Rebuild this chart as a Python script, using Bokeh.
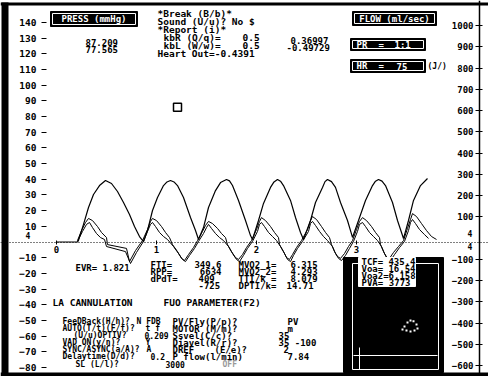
from bokeh.plotting import figure
from bokeh.models import Range1d, LinearAxis, FixedTicker, ColumnDataSource
from bokeh.core.properties import value
from bokeh.embed import file_html
from bokeh.resources import INLINE

# ---------------- data ----------------
time_ticks = [0, 1, 2, 3]
press_ticks = [-80, -70, -60, -50, -40, -30, -20, -10,
               10, 20, 30, 40, 50, 60, 70, 80, 90, 100, 110, 120, 130, 140]
flow_ticks = [-600, -500, -400, -300, -200, -100,
              100, 200, 300, 400, 500, 600, 700, 800, 900, 1000]

# pressure trace (s, mmHg)
press_t = [0.00, 0.21, 0.22, 0.27, 0.32, 0.37, 0.43, 0.49, 0.55, 0.61, 0.67, 0.73, 0.78, 0.83, 0.87,
           0.91, 0.96, 1.01, 1.07, 1.105, 1.14, 1.175, 1.21, 1.27, 1.34, 1.39, 1.42,
           1.47, 1.52, 1.59, 1.64, 1.70, 1.73, 1.76, 1.82, 1.89, 1.94, 1.96,
           2.02, 2.07, 2.14, 2.175, 2.21, 2.24, 2.27, 2.34, 2.39, 2.44, 2.47,
           2.54, 2.59, 2.66, 2.685, 2.71, 2.75, 2.79, 2.84, 2.91, 2.96,
           3.02, 3.09, 3.16, 3.19, 3.22, 3.255, 3.29, 3.36, 3.41, 3.47,
           3.52, 3.57, 3.64, 3.71]
press_p = [0, 0, 1.0, 11.2, 22.0, 30.3, 36.0, 39.2, 37.3, 32.2, 25.2, 17.5, 9.9, 3.5, 0.3,
           7.3, 20.1, 28.4, 36.0, 38.3, 39.2, 38.3, 36.0, 28.4, 15.6, 7.3, 1.6,
           9.2, 22.0, 32.8, 37.9, 39.9, 39.0, 36.0, 26.5, 13.7, 4.1, 1.6,
           13.7, 24.6, 34.8, 38.3, 39.9, 38.8, 36.0, 26.5, 15.6, 6.1, 1.6,
           13.7, 25.2, 34.8, 38.5, 39.9, 38.5, 34.8, 25.2, 13.7, 2.9,
           13.7, 26.5, 36.0, 38.8, 39.9, 38.8, 36.0, 25.2, 13.7, 2.2,
           13.7, 26.5, 36.0, 40.5]

# flow trace 1 (s, ml/sec)
flow1_t = [0.21, 0.25, 0.29, 0.32, 0.36, 0.41, 0.45, 0.50, 0.51, 0.70, 0.73, 0.79, 0.86,
           0.91, 0.94, 0.96, 1.00, 1.05, 1.09, 1.13, 1.16, 1.21, 1.25, 1.28, 1.32, 1.37, 1.41,
           1.46, 1.49, 1.52, 1.56, 1.61, 1.65, 1.69, 1.71, 1.75, 1.79, 1.82, 1.86, 1.90, 1.95,
           2.00, 2.03, 2.05, 2.09, 2.14, 2.18, 2.22, 2.23, 2.27, 2.30, 2.33, 2.36, 2.40, 2.45,
           2.51, 2.54, 2.56, 2.60, 2.65, 2.69, 2.73, 2.75, 2.78, 2.81, 2.84, 2.88, 2.92, 2.96,
           3.00, 3.03, 3.06, 3.10, 3.15, 3.19, 3.23, 3.24, 3.27, 3.30, 3.33, 3.37, 3.42, 3.47,
           3.51, 3.54, 3.56, 3.60, 3.65, 3.70, 3.75, 3.80]
flow1_f = [-12, 35, 73, 92, 82, 54, 26, 2, -31, -49, -111, -59, -12,
           40, 78, 92, 82, 54, 26, 2, -31, -64, -96, -106, -78, -45, -12,
           31, 59, 78, 68, 45, 21, 2, -31, -64, -92, -101, -78, -45, -12,
           40, 78, 96, 82, 54, 26, 2, -31, -64, -92, -101, -78, -45, -12,
           40, 82, 101, 87, 54, 26, 2, -31, -64, -87, -96, -73, -40, -12,
           40, 78, 96, 82, 54, 26, 2, -31, -64, -92, -96, -68, -40, -12,
           45, 87, 115, 101, 68, 35, 7, -7]

# flow trace 2 (s, ml/sec)
flow2_t = [0.21, 0.26, 0.30, 0.33, 0.36, 0.40, 0.44, 0.48, 0.50, 0.69, 0.74, 0.80, 0.87,
           0.91, 0.94, 0.96, 0.99, 1.03, 1.07, 1.11, 1.17, 1.22, 1.26, 1.29, 1.33, 1.38, 1.42,
           1.47, 1.50, 1.52, 1.55, 1.59, 1.63, 1.67, 1.72, 1.76, 1.80, 1.83, 1.87, 1.91, 1.96,
           2.01, 2.03, 2.05, 2.08, 2.12, 2.16, 2.20, 2.24, 2.28, 2.31, 2.34, 2.37, 2.41, 2.46,
           2.52, 2.54, 2.56, 2.59, 2.63, 2.67, 2.71, 2.76, 2.79, 2.82, 2.85, 2.89, 2.93, 2.97,
           3.01, 3.03, 3.06, 3.09, 3.13, 3.17, 3.21, 3.25, 3.28, 3.31, 3.34, 3.38, 3.43, 3.48,
           3.52, 3.54, 3.56, 3.59, 3.63, 3.68, 3.72]
flow2_f = [-16, 31, 64, 73, 49, 21, 2, -7, -40, -64, -120, -68, -16,
           31, 64, 73, 54, 26, 7, -7, -40, -73, -101, -111, -82, -49, -16,
           21, 49, 64, 45, 21, 2, -12, -40, -73, -101, -111, -82, -49, -16,
           31, 64, 73, 54, 26, 7, -12, -40, -73, -101, -111, -82, -49, -16,
           31, 68, 78, 59, 31, 7, -12, -40, -73, -96, -106, -82, -49, -16,
           31, 64, 73, 54, 26, 7, -12, -40, -73, -96, -106, -78, -45, -16,
           35, 73, 87, 68, 40, 16, -2]

cursor_t = [1.21]
cursor_p = [86]

# inset loop dots
loop_t = [3.48, 3.51, 3.54, 3.57, 3.60, 3.61, 3.58, 3.54, 3.50, 3.46]
loop_p = [-53.9, -51.3, -50.0, -50.6, -52.6, -55.2, -56.4, -57.1, -56.4, -55.8]

# ---------------- layout helpers (screen px -> data) ----------------
def X(sx):
    return (sx - 56) / 100.0

def P(sy):
    return (241.5 - sy) / 1.568

def F(sy):
    return (237.5 - sy) / 0.2125

FONT = value("DejaVu Sans Mono")
W, H = 488, 376

p = figure(width=W, height=H, output_backend="svg", toolbar_location=None,
           x_range=Range1d(X(0), X(W)), y_range=Range1d(P(H), P(0)),
           x_axis_location=None, y_axis_location=None, min_border=0)
p.extra_y_ranges = {"flow": Range1d(F(H), F(0))}
p.outline_line_color = None
p.background_fill_color = "white"
p.border_fill_color = "white"
p.xgrid.grid_line_color = None
p.ygrid.grid_line_color = None

def style_axis(ax, size):
    ax.major_label_text_font = "DejaVu Sans Mono"
    ax.major_label_text_font_style = "bold"
    ax.major_label_text_font_size = size
    ax.major_label_text_color = "black"
    ax.minor_tick_line_color = None
    ax.major_tick_line_color = "black"

yl = LinearAxis(fixed_location=X(46), ticker=FixedTicker(ticks=press_ticks),
                axis_line_color=None, major_tick_out=5, major_tick_in=0,
                major_label_standoff=5)
style_axis(yl, "9.5px")
p.add_layout(yl, "left")

yr = LinearAxis(y_range_name="flow", fixed_location=X(479), ticker=FixedTicker(ticks=flow_ticks),
                axis_line_color="black", axis_line_width=1.5,
                major_tick_out=4, major_tick_in=3, major_label_standoff=2)
style_axis(yr, "9px")
p.add_layout(yr, "left")

xa = LinearAxis(fixed_location=0, ticker=FixedTicker(ticks=time_ticks),
                axis_line_color="black", axis_line_dash="1 2", axis_line_width=1,
                major_tick_in=2, major_tick_out=2, major_label_standoff=2)
style_axis(xa, "9px")
p.add_layout(xa, "below")

# ---------------- screen frame ----------------
def box(l, r, t, b, fill, line, lw=1):
    p.quad(left=[X(l)], right=[X(r)], top=[P(t)], bottom=[P(b)],
           fill_color=fill, line_color=line, line_width=lw)

box(0, 488, 2, 5, "black", None)
box(1, 8, 2, 376, "black", None)
box(0, 488, 372, 376, "black", None)

# ---------------- traces ----------------
p.line(press_t, press_p, line_color="black", line_width=1.2)
p.line(flow1_t, flow1_f, y_range_name="flow", line_color="black", line_width=1)
p.line(flow2_t, flow2_f, y_range_name="flow", line_color="black", line_width=1)
p.scatter(cursor_t, cursor_p, marker="square", size=8, fill_color="white",
          line_color="black", line_width=1.5)

# ---------------- boxes ----------------
for (l, r, t, b) in [(50, 137, 11, 26), (352, 436, 11, 25), (350, 425, 38, 50), (350, 425, 59, 72)]:
    box(l, r, t, b, "black", "black")
    box(l + 2, r - 2, t + 2, b - 2, None, "white")

box(343, 443, 257, 372, "black", "black")
box(352, 438, 263, 369, None, "white")
box(358, 415, 257, 286, "white", "white")
p.segment(x0=[X(353), X(359)], y0=[P(355), P(347)], x1=[X(437), X(359)], y1=[P(355), P(369)],
          line_color="white", line_width=1)
p.scatter(loop_t, loop_p, marker="square", size=2, fill_color="white", line_color=None)

# ---------------- texts ----------------
def texts(items, size, color="black", align="left"):
    src = ColumnDataSource(dict(x=[X(i[1]) for i in items], y=[P(i[2]) for i in items],
                                text=[i[0] for i in items]))
    p.text(x="x", y="y", text="text", source=src, text_font=FONT, text_font_style="bold",
           text_font_size=size, text_color=color, text_align=align, text_baseline="middle")

texts([("*Break (B/b)*", 157, 13), ("Sound (U/u)? No $", 157, 21), ("*Report (i)*", 157, 29),
       ("kbR (Q/q)=", 163, 37), ("0.5", 242, 37), ("kbL (W/w)=", 163, 45), ("0.5", 242, 45),
       ("Heart Out=-0.4391", 157, 53)], "9.5px")
texts([("87.209", 85, 41.5), ("77.565", 85, 49), ("0.36997", 290, 40), ("-0.49729", 286, 47)], "9px")
texts([("EVR= 1.821", 75, 267), ("FTI=", 150, 264), ("RPP=", 150, 271), ("dPdT=", 150, 278),
       ("409", 198, 278), ("-725", 198, 285),
       ("MVO2_1=", 238, 264), ("6.315", 290, 264), ("MVO2_2=", 238, 271), ("4.293", 290, 271),
       ("TTI/k =", 238, 278), ("8.079", 290, 278), ("DPTI/k=", 238, 285), ("14.71", 286, 285)], "9px")
texts([("349.6", 221, 264), ("6634", 221, 271)], "9px", align="right")
texts([("LA CANNULATION", 52, 302), ("FUO PARAMETER(F2)", 163, 302)], "9.5px")
texts([("FeeDBack(H/h)?", 62, 321), ("N FDB", 136, 321),
       ("AUTO(T/t)(F/f)?", 62, 328), ("t f", 145, 328),
       ("(U/u)OPTIV?", 73, 335), ("0.209", 144, 335),
       ("VAD ON(y/n)?", 62, 342), ("Y", 145, 342),
       ("SYNC/ASYNC(a/A)?", 62, 349), ("A", 146, 349),
       ("Delaytime(D/d)?", 62, 356), ("0.2", 150, 356),
       ("SL (L/l)?", 75, 364), ("3000", 165, 364)], "8px")
texts([("PV/Fly(P/p)?", 172, 321), ("PV", 287, 321),
       ("MOTOR (M/m)?", 172, 328), ("m", 287, 328),
       ("Ssvel(C/c)?", 172, 335), ("35", 278, 335),
       ("Diavel(R/r)?", 172, 342), ("35 -100", 278, 342),
       ("DREF", 172, 349), ("(E/e)?", 214, 349), ("2", 283, 349),
       ("P flow(l/min)", 172, 356), ("7.84", 287, 356)], "9px")
texts([("OFF", 222, 364)], "8px", color="#999999")
texts([("TCF=", 361, 261), ("Voa=", 361, 268), ("Voa2=6.158", 361, 275), ("PVA=", 361, 282)], "9px")
texts([("435.4", 415, 261), ("16.54", 415, 268), ("3773", 410, 282)], "9px", align="right")
texts([("PRESS (mmHg)", 93.5, 18.5), ("FLOW (ml/sec)", 394, 18)], "9px", color="white", align="center")
texts([("PR", 356, 44), ("=", 378, 44), ("1:1", 394, 44),
       ("HR", 356, 65.5), ("=", 378, 65.5), ("75", 396, 65.5)], "9px", color="white")
texts([("(J/)", 427, 66), ("4", 25, 235), ("4", 467, 233), ("4", 467, 246)], "8px")

open("out.html", "w").write(file_html(p, INLINE))
